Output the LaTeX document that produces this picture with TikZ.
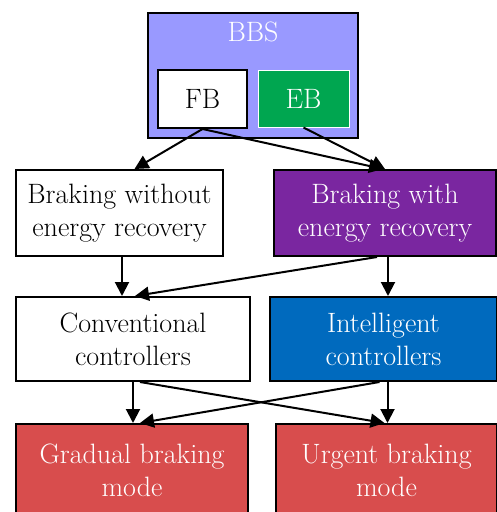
\documentclass[tikz,border=0pt]{standalone}
\usetikzlibrary{arrows.meta}
\definecolor{bbsblue}{RGB}{153,153,255}
\definecolor{ebgreen}{RGB}{0,166,80}
\definecolor{purp}{RGB}{122,38,160}
\definecolor{intblue}{RGB}{0,106,190}
\definecolor{modered}{RGB}{216,77,77}
\begin{document}
\begin{tikzpicture}[x=1pt,y=-1pt,
  box/.style={draw=black, line width=2pt, rectangle, inner sep=0pt, align=center,
    font=\fontsize{28}{33}\selectfont},
  arr/.style={line width=2pt, -{Triangle[length=14pt,width=14pt]}}]
\useasboundingbox (0,0) rectangle (497,512);
\begin{scope}
\clip (0,0) rectangle (497,512);
\node[box, fill=bbsblue, minimum width=210pt, minimum height=125pt] (bbs) at (253,75.5) {};
\node[text=white, font=\fontsize{28}{33}\selectfont] (bbslabel) at (253,32) {BBS};
\node[box, fill=white, minimum width=89pt, minimum height=58pt] (fb) at (202.5,99) {FB};
\node[box, draw=white, line width=1pt, fill=ebgreen, text=white, minimum width=91pt, minimum height=57pt] (eb) at (303.5,98.5) {EB};
\node[box, fill=white, minimum width=207pt, minimum height=86pt] (r2l) at (119.5,213) {Braking without\\energy recovery};
\node[box, fill=purp, text=white, minimum width=222pt, minimum height=86pt] (r2r) at (385,213) {Braking with\\energy recovery};
\node[box, fill=white, minimum width=234pt, minimum height=84pt] (r3l) at (133,339) {Conventional\\controllers};
\node[box, fill=intblue, text=white, minimum width=227pt, minimum height=84pt] (r3r) at (383.5,339) {Intelligent\\controllers};
\node[box, fill=modered, text=white, minimum width=232pt, minimum height=92pt] (r4l) at (132,470) {Gradual braking\\mode};
\node[box, fill=modered, text=white, minimum width=221pt, minimum height=92pt] (r4r) at (386.5,470) {Urgent braking\\mode};
\end{scope}
\draw[arr] (fb.south) -- ([xshift=15pt]r2l.north);
\draw[arr] (fb.south) -- ([xshift=-2pt]r2r.north);
\draw[arr] (eb.south) -- (r2r.north);
\draw[arr] ([xshift=2.5pt]r2l.south) -- ([xshift=-11pt]r3l.north);
\draw[arr] ([xshift=3pt]r2r.south) -- ([xshift=4.5pt]r3r.north);
\draw[arr] ([xshift=-8pt]r2r.south) -- ([xshift=2pt]r3l.north);
\draw[arr] (r3l.south) -- ([xshift=1pt]r4l.north);
\draw[arr] ([xshift=7pt]r3l.south) -- ([xshift=-2pt]r4r.north);
\draw[arr] ([xshift=4pt]r3r.south) -- ([xshift=1pt]r4r.north);
\draw[arr] ([xshift=-4pt]r3r.south) -- ([xshift=8pt]r4l.north);
\end{tikzpicture}
\end{document}
